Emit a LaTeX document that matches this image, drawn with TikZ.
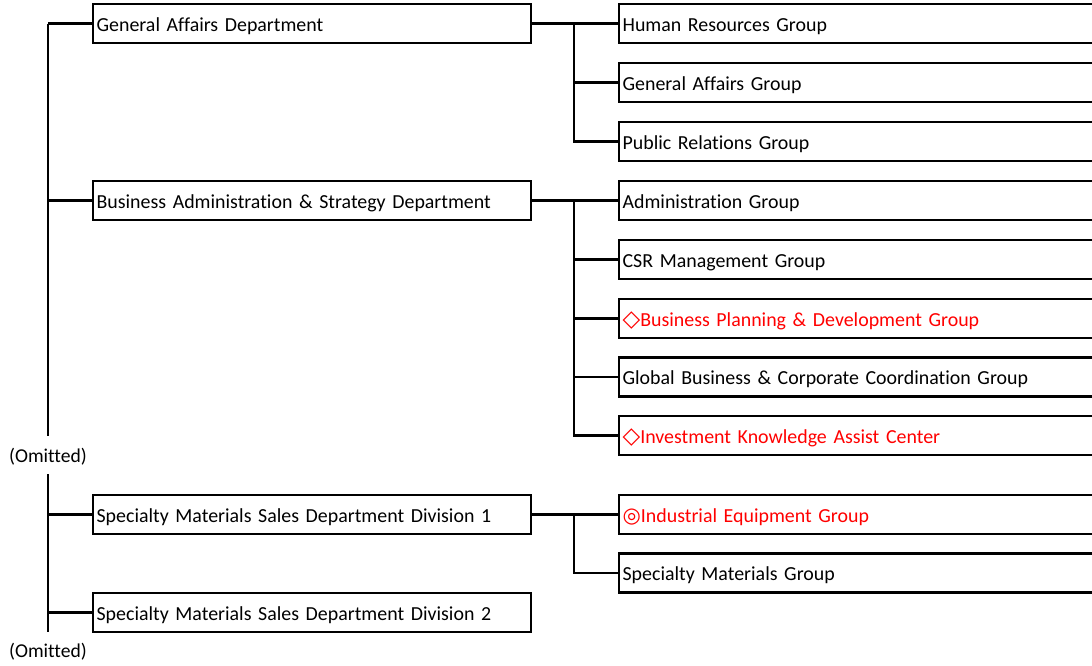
\documentclass[tikz,border=0pt]{standalone}
\usepackage{fontspec}
\setmainfont[Ligatures=NoCommon]{Carlito}
\newfontfamily\symfont{DejaVu Sans}
\definecolor{redtxt}{RGB}{255,0,0}
\newcommand{\diasym}{{\symfont\fontsize{23pt}{20pt}\selectfont ◇}}
\newcommand{\dblsym}{{\symfont\fontsize{21pt}{20pt}\selectfont ◎}}
\tikzset{
  unitbox/.style={draw=black, line width=2.2pt, anchor=west, minimum height=39pt,
    inner xsep=3.5pt, inner ysep=0pt, align=left, text height=16pt, text depth=1pt,
    font=\fontsize{19.9pt}{22pt}\selectfont},
  dept/.style={unitbox, text width=431pt},
  grp/.style={unitbox, text width=492pt},
  redlbl/.style={text=redtxt},
  link/.style={draw=black, line width=2.2pt},
  omit/.style={font=\fontsize{19.6pt}{22pt}\selectfont, inner sep=0pt}
}
\begin{document}
\begin{tikzpicture}[x=1pt,y=-1pt]
\useasboundingbox (0,0) rectangle (1092,665);
\clip (0,0) rectangle (1092,665);
% departments
\node[dept] (gad) at (92,23.5) {General Affairs Department};
\node[dept] (bas) at (92,200.5) {Business Administration \& Strategy Department};
\node[dept] (sm1) at (92,514.5) {Specialty Materials Sales Department Division 1};
\node[dept] (sm2) at (92,612.5) {Specialty Materials Sales Department Division 2};
% groups
\node[grp] (hr)  at (618,23.5)  {Human Resources Group};
\node[grp] (gag) at (618,82.5)  {General Affairs Group};
\node[grp] (pr)  at (618,141.5) {Public Relations Group};
\node[grp] (adm) at (618,200.5) {Administration Group};
\node[grp] (csr) at (618,259.5) {CSR Management Group};
\node[grp, redlbl] (bpd) at (618,318.5) {\diasym Business Planning \& Development Group};
\node[grp] (gbc) at (618,377)   {Global Business \& Corporate Coordination Group};
\node[grp, redlbl] (ika) at (618,435.5) {\diasym Investment Knowledge Assist Center};
\node[grp, redlbl] (ieg) at (618,514.5) {\dblsym Industrial Equipment Group};
\node[grp] (smg) at (618,573)   {Specialty Materials Group};
% omitted labels
\node[omit] (om1) at (48,457) {(Omitted)};
\node[omit] (om2) at (48,652) {(Omitted)};
% left trunks
\coordinate (t1) at (48,23.5);
\coordinate (t1e) at (48,436);
\coordinate (t2) at (48,474);
\coordinate (t2e) at (48,632);
\draw[link] (t1) -- (t1e);
\draw[link] (t1) -- (gad.west);
\draw[link] (t1 |- bas.west) -- (bas.west);
\draw[link] (t2) -- (t2e);
\draw[link] (t2 |- sm1.west) -- (sm1.west);
\draw[link] (t2 |- sm2.west) -- (sm2.west);
% branch: general affairs
\coordinate (b1) at (574,23.5);
\draw[link] (gad.east) -- (hr.west);
\draw[link] (b1) |- (pr.west);
\draw[link] (b1 |- gag.west) -- (gag.west);
% branch: business administration
\coordinate (b2) at (574,200.5);
\draw[link] (bas.east) -- (adm.west);
\draw[link] (b2) |- (ika.west);
\draw[link] (b2 |- csr.west) -- (csr.west);
\draw[link] (b2 |- bpd.west) -- (bpd.west);
\draw[link] (b2 |- gbc.west) -- (gbc.west);
% branch: specialty materials
\coordinate (b3) at (574,514.5);
\draw[link] (sm1.east) -- (ieg.west);
\draw[link] (b3) |- (smg.west);
\end{tikzpicture}
\end{document}
